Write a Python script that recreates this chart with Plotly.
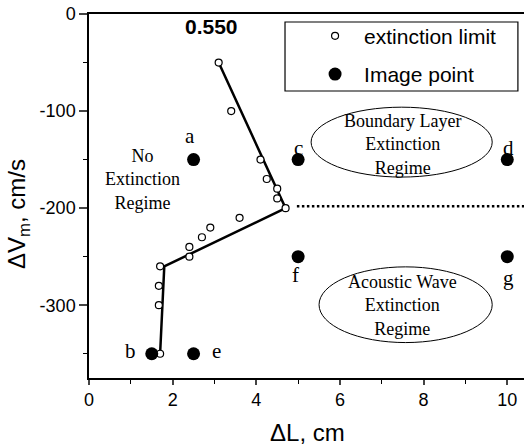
import plotly.graph_objects as go

# ---------------- data ----------------
ext_x = [3.1, 3.4, 4.1, 4.25, 4.5, 4.5, 4.7, 3.6, 2.9, 2.7, 2.4, 2.4, 1.7, 1.67, 1.67, 1.7]
ext_y = [-50, -100, -150, -170, -180, -190, -200, -210, -220, -230, -240, -250, -260, -280, -300, -350]

fit_x = [3.1, 4.7, 1.8, 1.7]
fit_y = [-50, -200, -260, -350]

bound_x = [4.97, 10.4]
bound_y = [-198, -198]

img_x = [2.5, 1.5, 5, 10, 2.5, 5, 10]
img_y = [-150, -350, -150, -150, -350, -250, -250]
img_labels = ["a", "b", "c", "d", "e", "f", "g"]
lab_x = [2.42, 1.0, 5.0, 10.04, 3.05, 4.94, 10.04]
lab_y = [-126, -347, -138, -138, -347, -269, -272]

x_ticks = [0, 2, 4, 6, 8, 10]
y_ticks = [0, -100, -200, -300]
y_ticktext = ["0", "-100", "-200", "-300"]

SANS = "Liberation Sans, Arial, sans-serif"
SERIF = "Liberation Serif, Times New Roman, serif"

fig = go.Figure()

fig.add_trace(go.Scatter(
    x=fit_x, y=fit_y, mode="lines",
    line=dict(color="black", width=2.5), showlegend=False, hoverinfo="skip"))
fig.add_trace(go.Scatter(
    x=bound_x, y=bound_y, mode="lines",
    line=dict(color="black", width=2.5, dash="2.5px,2.5px"), showlegend=False, hoverinfo="skip"))
fig.add_trace(go.Scatter(
    x=ext_x, y=ext_y, mode="markers", name="extinction limit",
    marker=dict(symbol="circle", size=7, color="white", line=dict(color="black", width=1.2)),
    legendgroup="g1"))
fig.add_trace(go.Scatter(
    x=img_x, y=img_y, mode="markers", name="Image point",
    marker=dict(symbol="circle", size=13, color="black"),
    legendgroup="g2"))

annotations = []
for t, x, y in zip(img_labels, lab_x, lab_y):
    annotations.append(dict(x=x, y=y, text=t, showarrow=False,
                            font=dict(family=SERIF, size=21, color="black"),
                            xanchor="center", yanchor="middle"))

annotations += [
    dict(x=1.29, y=-170, text="No<br>Extinction<br>Regime", showarrow=False,
         font=dict(family=SERIF, size=18, color="black"), align="center"),
    dict(x=7.49, y=-134, text="Boundary Layer<br>Extinction<br>Regime", showarrow=False,
         font=dict(family=SERIF, size=18, color="black"), align="center"),
    dict(x=7.5, y=-300, text="Acoustic Wave<br>Extinction<br>Regime", showarrow=False,
         font=dict(family=SERIF, size=18, color="black"), align="center"),
    dict(x=2.93, y=-13, text="<b>0.550</b>", showarrow=False,
         font=dict(family=SANS, size=21, color="black")),
    dict(xref="paper", yref="paper", x=0.503, y=-0.1484, text="ΔL, cm", showarrow=False,
         font=dict(family=SANS, size=24, color="black"), yanchor="middle"),
    dict(xref="paper", yref="paper", x=-0.163, y=0.4505, text="ΔV<sub>m</sub>, cm/s",
         showarrow=False, textangle=-90,
         font=dict(family=SANS, size=24, color="black"), xanchor="center", yanchor="middle"),
]

shapes = [
    dict(type="circle", xref="x", yref="y", x0=5.31, x1=9.64, y0=-168, y1=-96,
         line=dict(color="black", width=1)),
    dict(type="circle", xref="x", yref="y", x0=5.5, x1=9.64, y0=-338.5, y1=-260.5,
         line=dict(color="black", width=1)),
    dict(type="rect", xref="paper", yref="paper", x0=0.4506, x1=0.986, y0=0.7885, y1=0.978,
         line=dict(color="black", width=1.2), fillcolor="white", layer="below"),
]

fig.update_layout(
    width=524, height=447,
    margin=dict(l=89, r=0, t=14, b=69),
    paper_bgcolor="white", plot_bgcolor="white",
    font=dict(family=SANS, size=18, color="black"),
    annotations=annotations, shapes=shapes,
    legend=dict(x=0.499, y=0.9955, xanchor="left", yanchor="top",
                bgcolor="rgba(0,0,0,0)", borderwidth=0, itemwidth=48,
                font=dict(family=SANS, size=21, color="black"),
                tracegroupgap=8),
    xaxis=dict(range=[0, 10.4], tickvals=x_ticks, ticks="outside", ticklen=5, tickwidth=1.5,
               showline=True, linecolor="black", linewidth=1.5, mirror=True,
               showgrid=False, zeroline=False,
               minor=dict(dtick=1, ticks="outside", ticklen=4, tickwidth=1.2, tickcolor="black"),
               tickfont=dict(family=SANS, size=18, color="black")),
    yaxis=dict(range=[-375, 0], tickvals=y_ticks, ticktext=y_ticktext, ticks="outside",
               ticklen=8, tickwidth=1.5,
               showline=True, linecolor="black", linewidth=1.5,
               showgrid=False, zeroline=False,
               minor=dict(dtick=50, ticks="outside", ticklen=4, tickwidth=1.2, tickcolor="black"),
               tickfont=dict(family=SANS, size=18, color="black")),
)

fig.write_html("out.html")
